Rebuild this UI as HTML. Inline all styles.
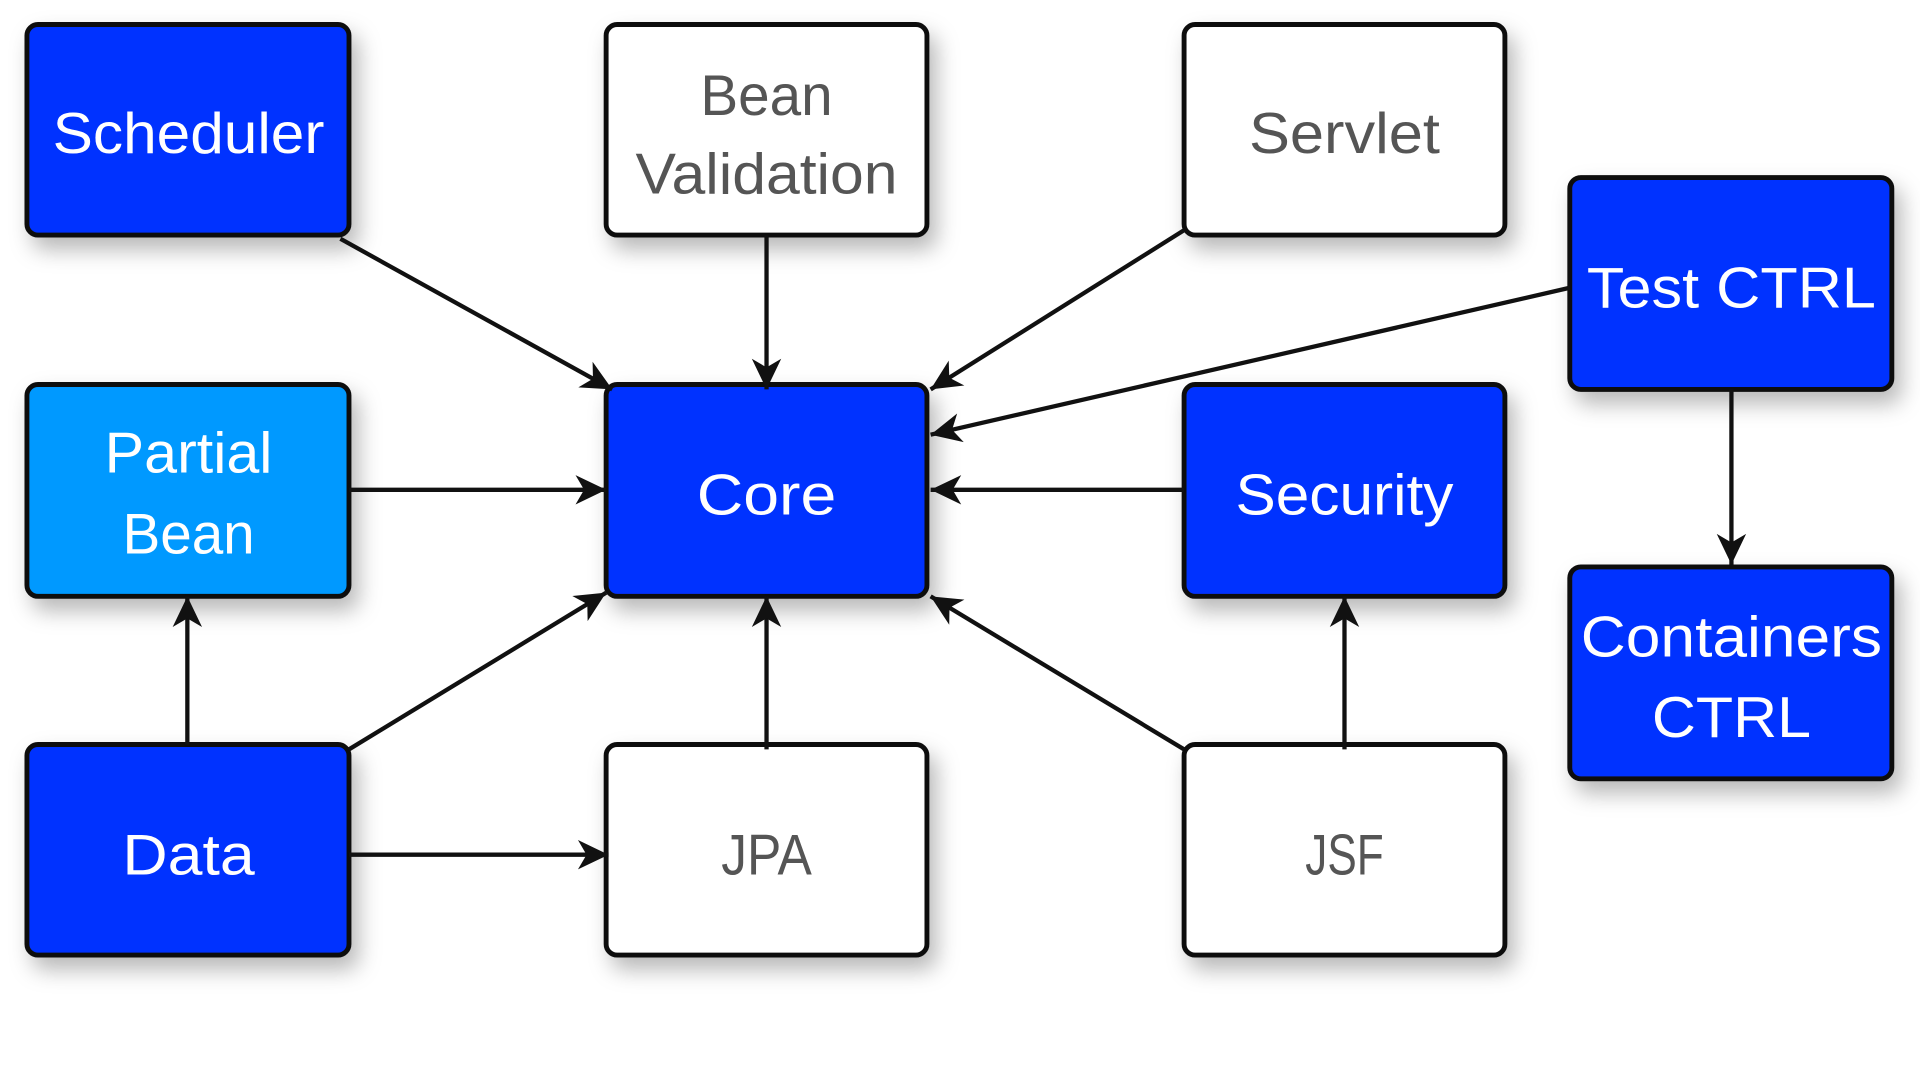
<!DOCTYPE html>
<html><head><meta charset="utf-8"><style>
html,body{margin:0;padding:0;background:#fff;width:1920px;height:1080px;overflow:hidden}
svg{display:block}
text{font-family:"Liberation Sans",sans-serif;font-size:47px;text-anchor:middle}
</style></head><body>
<svg width="1920" height="1080" viewBox="0 0 1568 882" preserveAspectRatio="none" xmlns="http://www.w3.org/2000/svg">
<defs>
<filter id="sh" x="-20%" y="-20%" width="150%" height="150%">
<feDropShadow dx="6" dy="10" stdDeviation="9" flood-color="#000" flood-opacity="0.28"/>
</filter>
<marker id="ar" viewBox="0 0 30 30" refX="27" refY="15" markerWidth="30" markerHeight="30" markerUnits="userSpaceOnUse" orient="auto">
<path d="M2,3 L27,15 L2,27 L9,15 Z" fill="#111"/>
</marker>
</defs>
<g fill="none" stroke="#111" stroke-width="4">
<rect x="22" y="20" width="263" height="172" rx="9" fill="#0433FF" filter="url(#sh)"/>
<rect x="495" y="20" width="262" height="172" rx="9" fill="#fff" filter="url(#sh)"/>
<rect x="967" y="20" width="262" height="172" rx="9" fill="#fff" filter="url(#sh)"/>
<rect x="1282" y="145" width="263" height="173" rx="9" fill="#0433FF" filter="url(#sh)"/>
<rect x="22" y="314" width="263" height="173" rx="9" fill="#0099FF" filter="url(#sh)"/>
<rect x="495" y="314" width="262" height="173" rx="9" fill="#0433FF" filter="url(#sh)"/>
<rect x="967" y="314" width="262" height="173" rx="9" fill="#0433FF" filter="url(#sh)"/>
<rect x="1282" y="463" width="263" height="173" rx="9" fill="#0433FF" filter="url(#sh)"/>
<rect x="22" y="608" width="263" height="172" rx="9" fill="#0433FF" filter="url(#sh)"/>
<rect x="495" y="608" width="262" height="172" rx="9" fill="#fff" filter="url(#sh)"/>
<rect x="967" y="608" width="262" height="172" rx="9" fill="#fff" filter="url(#sh)"/>
</g>
<g stroke="#111" stroke-width="3.5" marker-end="url(#ar)">
<line x1="278" y1="195" x2="500" y2="318"/>
<line x1="626" y1="192" x2="626" y2="318"/>
<line x1="967" y1="188" x2="760" y2="318"/>
<line x1="1282" y1="235" x2="760" y2="355"/>
<line x1="967" y1="400" x2="760" y2="400"/>
<line x1="285" y1="400" x2="495" y2="400"/>
<line x1="285" y1="612" x2="495" y2="484"/>
<line x1="626" y1="612" x2="626" y2="487"/>
<line x1="967" y1="612" x2="760" y2="487"/>
<line x1="1098" y1="612" x2="1098" y2="487"/>
<line x1="153" y1="608" x2="153" y2="487"/>
<line x1="285" y1="698" x2="497" y2="698"/>
<line x1="1414" y1="318" x2="1414" y2="461"/>
</g>
<g fill="#fff">
<text x="154" y="125" textLength="222" lengthAdjust="spacingAndGlyphs">Scheduler</text>
<text x="1414" y="251" textLength="236" lengthAdjust="spacingAndGlyphs">Test CTRL</text>
<text x="154" y="386" textLength="137" lengthAdjust="spacingAndGlyphs">Partial</text>
<text x="154" y="452" textLength="108" lengthAdjust="spacingAndGlyphs">Bean</text>
<text x="626" y="420" textLength="114" lengthAdjust="spacingAndGlyphs">Core</text>
<text x="1098" y="420" textLength="178" lengthAdjust="spacingAndGlyphs">Security</text>
<text x="1414" y="536" textLength="246" lengthAdjust="spacingAndGlyphs">Containers</text>
<text x="1414" y="602" textLength="130" lengthAdjust="spacingAndGlyphs">CTRL</text>
<text x="154" y="714" textLength="108" lengthAdjust="spacingAndGlyphs">Data</text>
</g>
<g fill="#555">
<text x="626" y="94" textLength="108" lengthAdjust="spacingAndGlyphs">Bean</text>
<text x="626" y="158" textLength="214" lengthAdjust="spacingAndGlyphs">Validation</text>
<text x="1098" y="125" textLength="156" lengthAdjust="spacingAndGlyphs">Servlet</text>
<text x="626" y="714" textLength="74" lengthAdjust="spacingAndGlyphs">JPA</text>
<text x="1098" y="714" textLength="64" lengthAdjust="spacingAndGlyphs">JSF</text>
</g>
</svg>
</body></html>
